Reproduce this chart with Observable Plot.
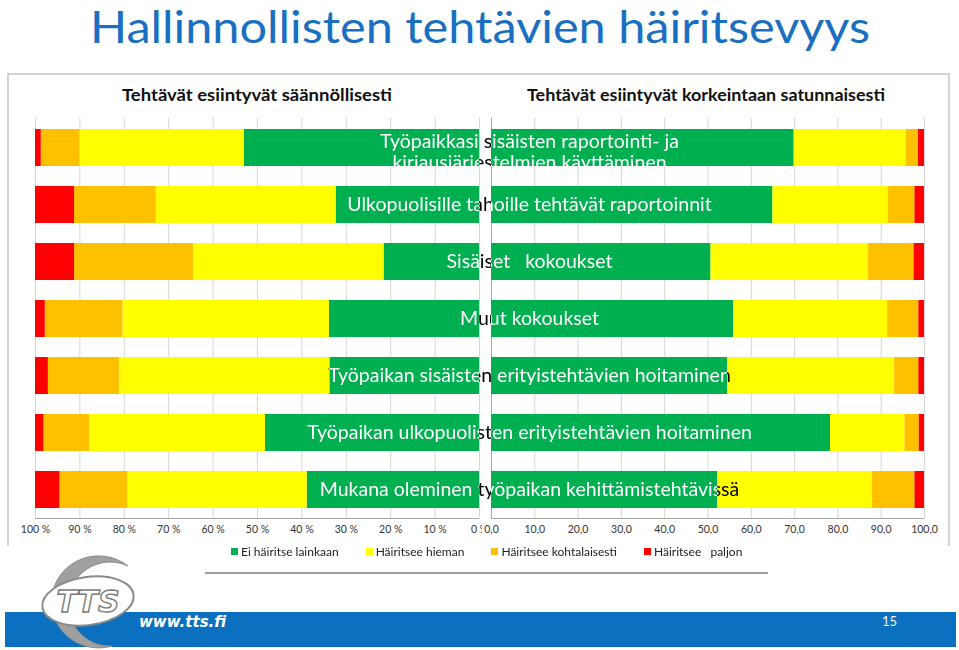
<!DOCTYPE html>
<html><head><meta charset="utf-8">
<script src="https://cdn.jsdelivr.net/npm/d3@7"></script>
<script src="https://cdn.jsdelivr.net/npm/@observablehq/plot@0.6"></script>
<style>
body{margin:0;background:#fff;font-family:Lato,"Open Sans",sans-serif;}
#page{position:relative;width:959px;height:650px;overflow:hidden;background:#fff;}
#deco{position:absolute;left:0;top:0;}
#chart{position:absolute;left:0;top:0;}
#legend{position:absolute;left:231px;top:544px;display:flex;align-items:center;font-size:12px;color:#222;white-space:pre;}
#legend .item{display:flex;align-items:center;margin-right:27px;}
#legend .sw{width:7px;height:7px;margin-right:3px;}
</style></head>
<body><div id="page">
<svg id="deco" width="959" height="650" xmlns="http://www.w3.org/2000/svg">
  <text x="90" y="43" font-family="Lato" font-size="45" fill="#1a6fc0" textLength="780" lengthAdjust="spacingAndGlyphs">Hallinnollisten tehtävien häiritsevyys</text>
  <path d="M8,546 V74 H949 V546" fill="none" stroke="#c4c4c4" stroke-width="1.5"/>
  <text x="122" y="101" font-family="Lato" font-weight="bold" font-size="17" fill="#111" textLength="270" lengthAdjust="spacingAndGlyphs">Tehtävät esiintyvät säännöllisesti</text>
  <text x="527" y="101" font-family="Lato" font-weight="bold" font-size="17" fill="#111" textLength="358" lengthAdjust="spacingAndGlyphs">Tehtävät esiintyvät korkeintaan satunnaisesti</text>
  <line x1="205" x2="768" y1="573" y2="573" stroke="#7f7f7f" stroke-width="1.5"/>
  <rect x="5" y="612" width="951" height="35" fill="#0b70bf"/>
  <path d="M128,566 A47,46 0 1,0 112,646 A42,42 0 1,1 128,566 Z" fill="#a0a0a0" stroke="#8a8a8a" stroke-width="1"/>
  <ellipse cx="88" cy="601" rx="46" ry="24" fill="#fff" stroke="#8a8a8a" stroke-width="2" transform="rotate(-8 88 601)"/>
  <text x="88" y="612" text-anchor="middle" font-family="DejaVu Sans" font-weight="bold" font-style="italic" font-size="30" fill="#fff" stroke="#7a7a7a" stroke-width="1.4">TTS</text>
  <text x="139" y="627" font-family="DejaVu Sans" font-weight="bold" font-style="italic" font-size="15" fill="#fff">www.tts.fi</text>
  <text x="882" y="626" font-family="Lato" font-size="13" fill="#f2f2f2">15</text>
</svg>
<div id="chart"></div>
<div id="legend"></div>
</div>
<script>
// ---- data ----
const cats = [
  "Työpaikkasi sisäisten raportointi- ja kirjausjärjestelmien käyttäminen",
  "Ulkopuolisille tahoille tehtävät raportoinnit",
  "Sisäiset   kokoukset",
  "Muut kokoukset",
  "Työpaikan sisäisten erityistehtävien hoitaminen",
  "Työpaikan ulkopuolisten erityistehtävien hoitaminen",
  "Mukana oleminen työpaikan kehittämistehtävissä"
];
const catLabels = [
  "Työpaikkasi sisäisten raportointi- ja\nkirjausjärjestelmien käyttäminen",
  "Ulkopuolisille tahoille tehtävät raportoinnit",
  "Sisäiset   kokoukset",
  "Muut kokoukset",
  "Työpaikan sisäisten erityistehtävien hoitaminen",
  "Työpaikan ulkopuolisten erityistehtävien hoitaminen",
  "Mukana oleminen työpaikan kehittämistehtävissä"
];
const seriesNames = ["Ei häiritse lainkaan", "Häiritsee hieman", "Häiritsee kohtalaisesti", "Häiritsee   paljon"];
const seriesColors = ["#00B050", "#FFFF00", "#FFC000", "#FF0000"];

// "Tehtävät esiintyvät säännöllisesti" (%)
const regularGreen  = [53.0, 32.3, 21.5, 33.8, 33.7, 48.2, 38.8];
const regularYellow = [37.0, 40.5, 42.9, 46.5, 47.4, 39.6, 40.4];
const regularOrange = [8.7, 18.4, 26.8, 17.5, 16.0, 10.3, 15.3];
const regularRed    = [1.3, 8.8, 8.8, 2.2, 2.9, 1.9, 5.5];

// "Tehtävät esiintyvät korkeintaan satunnaisesti" (%)
const occasionalGreen  = [69.9, 65.0, 50.7, 55.9, 54.5, 78.3, 52.2];
const occasionalYellow = [25.9, 26.6, 36.3, 35.6, 38.6, 17.2, 35.8];
const occasionalOrange = [2.8, 6.2, 10.6, 7.2, 5.6, 3.3, 9.8];
const occasionalRed    = [1.4, 2.2, 2.4, 1.3, 1.3, 1.2, 2.2];

const leftTicks = [100, 90, 80, 70, 60, 50, 40, 30, 20, 10, 0];
const leftTickLabels = ["100 %", "90 %", "80 %", "70 %", "60 %", "50 %", "40 %", "30 %", "20 %", "10 %", "0 %"];
const rightTicks = [0, 10, 20, 30, 40, 50, 60, 70, 80, 90, 100];
const rightTickLabels = ["0,0", "10,0", "20,0", "30,0", "40,0", "50,0", "60,0", "70,0", "80,0", "90,0", "100,0"];

// ---- table ----
function buildRows(panel, arrays) {
  return cats.flatMap((c, i) => seriesNames.map((s, j) => ({panel, cat: c, series: s, value: arrays[j][i]})));
}
const leftData = buildRows("left", [regularGreen, regularYellow, regularOrange, regularRed]);
const rightData = buildRows("right", [occasionalGreen, occasionalYellow, occasionalOrange, occasionalRed]);
const labelRows = cats.map((c, i) => ({cat: c, label: catLabels[i]}));

const W = 959, H = 545;
const gap = 12;
const labelFont = 19.5;

const chart = Plot.plot({
  width: W, height: H,
  marginTop: 117.6, marginBottom: 26.5, marginLeft: 35, marginRight: 35,
  style: {fontFamily: "Lato", background: "transparent", overflow: "visible"},
  x: {type: "linear", domain: [-100, 0, 100], range: [35, 479, 912], axis: null},
  y: {domain: cats, range: [127.6, 509], paddingInner: 0.345, paddingOuter: 0, axis: null},
  color: {domain: seriesNames, range: seriesColors},
  marks: [
    Plot.ruleX(leftTicks, {x: d => -d, stroke: "#d6d6d6", strokeWidth: 1}),
    Plot.ruleX(rightTicks, {x: d => d, dx: gap, stroke: "#d6d6d6", strokeWidth: 1}),
    Plot.ruleX([0], {x: d => d, dx: gap, stroke: "#a8a8a8", strokeWidth: 1}),
    Plot.barX(leftData, Plot.stackX({x: d => -d.value, y: "cat", fill: "series", order: seriesNames})),
    Plot.barX(rightData, Plot.stackX({x: "value", y: "cat", fill: "series", order: seriesNames, dx: gap})),
    Plot.text(leftTicks, {x: d => -d, text: (d, i) => leftTickLabels[i], frameAnchor: "bottom", dy: 13.5, fontSize: 10.5, fill: "#333"}),
    Plot.text(rightTicks, {x: d => d, text: (d, i) => rightTickLabels[i], frameAnchor: "bottom", dx: gap, dy: 13.5, fontSize: 10.5, fill: "#333"}),
    // category labels: black copy then white copy (clipped to green later)
    Plot.text(labelRows.slice(1), {y: "cat", text: "label", dx: 49.5, fontSize: labelFont, fill: "black"}),
    Plot.text(labelRows.slice(0, 1), {y: "cat", text: "label", dx: 49.5, dy: 4, lineHeight: 1.05, fontSize: labelFont, fill: "black"}),
    Plot.text(labelRows.slice(1), {y: "cat", text: "label", dx: 49.5, fontSize: labelFont, fill: "white"}),
    Plot.text(labelRows.slice(0, 1), {y: "cat", text: "label", dx: 49.5, dy: 4, lineHeight: 1.05, fontSize: labelFont, fill: "white"})
  ]
});
document.getElementById("chart").appendChild(chart);

// ---- post-process: clip label text ----
const ns = "http://www.w3.org/2000/svg";
const svg = chart;
const defs = document.createElementNS(ns, "defs");
svg.insertBefore(defs, svg.firstChild);
const greenRects = Array.from(svg.querySelectorAll("rect")).filter(r => {
  const f = (r.getAttribute("fill") || (r.parentNode.getAttribute && r.parentNode.getAttribute("fill")) || "").toLowerCase();
  return f === "#00b050";
});
const clip = document.createElementNS(ns, "clipPath");
clip.setAttribute("id", "greenClip");
const mask = document.createElementNS(ns, "mask");
mask.setAttribute("id", "rowMask");
mask.setAttribute("maskUnits", "userSpaceOnUse");
mask.setAttribute("x", 0); mask.setAttribute("y", 0);
mask.setAttribute("width", W); mask.setAttribute("height", H);
greenRects.forEach(r => {
  const row = document.createElementNS(ns, "rect");
  row.setAttribute("x", 0); row.setAttribute("width", W);
  row.setAttribute("y", r.getAttribute("y")); row.setAttribute("height", r.getAttribute("height"));
  row.setAttribute("fill", "white");
  mask.appendChild(row);
});
greenRects.forEach(r => {
  const t = r.parentNode.getAttribute("transform");
  const c1 = r.cloneNode(false);
  if (t) c1.setAttribute("transform", t);
  clip.appendChild(c1);
  const c2 = r.cloneNode(false);
  if (t) c2.setAttribute("transform", t);
  c2.setAttribute("fill", "black");
  mask.appendChild(c2);
});
defs.appendChild(clip);
defs.appendChild(mask);
// clip for the left tick labels: the right panel hides the end of "0 %"
const xs = chart.scale("x");
const tickClip = document.createElementNS(ns, "clipPath");
tickClip.setAttribute("id", "leftTickClip");
const tcr = document.createElementNS(ns, "rect");
tcr.setAttribute("x", 0); tcr.setAttribute("y", 0);
tcr.setAttribute("width", xs.apply(0) + 3); tcr.setAttribute("height", H);
tickClip.appendChild(tcr);
defs.appendChild(tickClip);

const textGroups = Array.from(svg.querySelectorAll("g")).filter(g => g.getAttribute("aria-label") === "text");
textGroups.forEach((g, idx) => {
  const f = (g.getAttribute("fill") || "").toLowerCase();
  const fs = g.getAttribute("font-size");
  const wrap = document.createElementNS(ns, "g");
  if (String(fs) === String(labelFont)) {
    g.parentNode.insertBefore(wrap, g);
    wrap.appendChild(g);
    if (f === "white") wrap.setAttribute("clip-path", "url(#greenClip)");
    else wrap.setAttribute("mask", "url(#rowMask)");
  } else if (idx === 0) {
    g.parentNode.insertBefore(wrap, g);
    wrap.appendChild(g);
    wrap.setAttribute("clip-path", "url(#leftTickClip)");
  }
});

// axis baselines using the plot's x scale
const yBottom = H - 26.5;
const sel = d3.select(svg);
sel.append("line").attr("x1", xs.apply(-100)).attr("x2", xs.apply(0)).attr("y1", yBottom).attr("y2", yBottom).attr("stroke", "#a8a8a8");
sel.append("line").attr("x1", xs.apply(0) + gap).attr("x2", xs.apply(100) + gap).attr("y1", yBottom).attr("y2", yBottom).attr("stroke", "#a8a8a8");

// ---- legend ----
const legend = d3.select("#legend");
seriesNames.forEach((s, i) => {
  const it = legend.append("div").attr("class", "item");
  it.append("div").attr("class", "sw").style("background", seriesColors[i]);
  it.append("span").text(s);
});
</script>
</body></html>
